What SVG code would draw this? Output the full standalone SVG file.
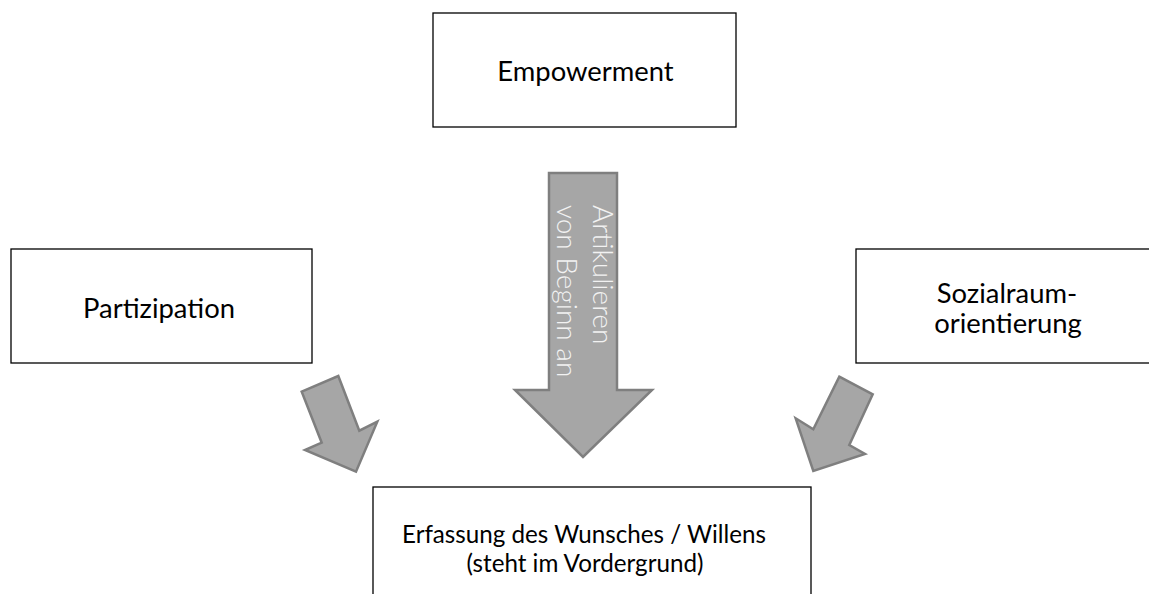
<svg xmlns="http://www.w3.org/2000/svg" width="1149" height="594" viewBox="0 0 1149 594">
<style>
.box{fill:#fff;stroke:#000;stroke-width:1.3}
.t{font-family:Lato,"Liberation Sans",sans-serif;font-size:27.4px;fill:#000;text-anchor:middle}
.tb{font-size:24.2px}
.arr{fill:#a6a6a6;stroke:#7f7f7f;stroke-width:2.5;stroke-linejoin:miter}
.at{font-family:Lato,"Liberation Sans",sans-serif;font-weight:300;font-size:28px;fill:#f2f2f2}
</style>
<rect width="1149" height="594" fill="#fff"/>
<g id="connectors">
<polygon class="arr" points="549,173 617,173 617,390 652,390 583,457 515,390 549,390"/>
<polygon class="arr" points="301.7,391.7 338.3,376 359.3,430.7 377.3,421.7 356,471.7 305,450 321.7,442.7"/>
<polygon class="arr" points="839.3,376.7 872.7,394.3 849.3,445 865,454 813.3,471 795.7,418.3 813.3,429.3"/>
<g class="at" transform="translate(585,205) rotate(90)">
<text x="0" y="-8">Artikulieren</text>
<text x="0" y="28">von Beginn an</text>
</g>
</g>
<g id="empowerment">
<rect class="box" x="433" y="13" width="303" height="114"/>
<text class="t" x="585.5" y="81">Empowerment</text>
</g>
<g id="partizipation">
<rect class="box" x="11" y="249" width="301" height="114"/>
<text class="t" x="159" y="318">Partizipation</text>
</g>
<g id="sozialraum">
<rect class="box" x="856" y="249" width="300" height="114"/>
<text class="t" x="1007" y="303">Sozialraum-</text>
<text class="t" x="1008" y="333">orientierung</text>
</g>
<g id="wunsch">
<rect class="box" x="373" y="487" width="438" height="120"/>
<text class="t tb" x="584" y="543">Erfassung des Wunsches / Willens</text>
<text class="t tb" x="585" y="572">(steht im Vordergrund)</text>
</g>
</svg>
